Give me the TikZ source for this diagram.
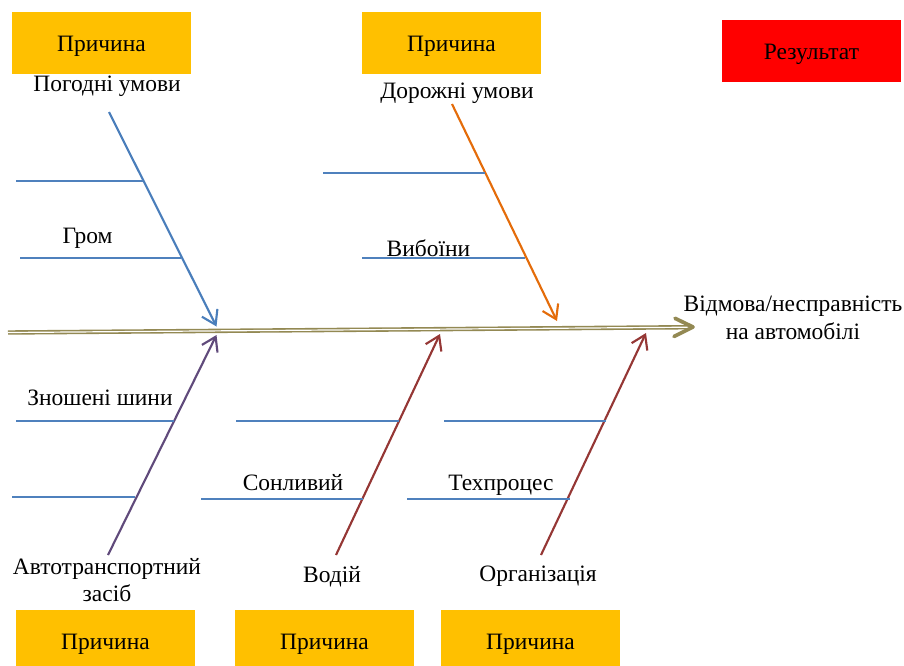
\documentclass[tikz,border=0pt]{standalone}
\usepackage{fontspec}
\setmainfont{Liberation Serif}
\usetikzlibrary{arrows.meta}
\definecolor{causefill}{HTML}{FFC000}
\definecolor{resultfill}{HTML}{FF0000}
\definecolor{spinecol}{HTML}{938953}
\definecolor{bluebone}{HTML}{4A7EBB}
\definecolor{subbone}{HTML}{4F81BD}
\definecolor{orangebone}{HTML}{E46C0A}
\definecolor{purplebone}{HTML}{604A7B}
\definecolor{redbone}{HTML}{953735}
\begin{document}
\begin{tikzpicture}[x=0.75pt,y=-0.75pt,
  txt/.style={font=\fontsize{17.6}{20.6}\selectfont, inner sep=0pt},
  causebox/.style={txt, fill=causefill, minimum width=134.25pt, minimum height=46.5pt,
    text height=13pt, text depth=0pt},
  resultbox/.style={causebox, fill=resultfill},
  lbl/.style={txt, anchor=base},
  bone/.style={line width=1.6pt, -{Straight Barb[length=10pt,width=13pt]}},
  twig/.style={draw=subbone, line width=1.3pt},
  spine/.style={draw=spinecol, double=white, line width=1.2pt, double distance=0.9pt},
  spinehead/.style={draw=spinecol, line width=2.8pt, line cap=round, line join=round},
]
\clip (0,0) rectangle (904,665);

% cause and result boxes
\node[causebox] (c1) at (101.5,43) {Причина};
\node[causebox] (c2) at (451.5,43) {Причина};
\node[resultbox] (res) at (811.5,51) {Результат};
\node[causebox] (c3) at (105.5,641) {Причина};
\node[causebox] (c4) at (324.5,641) {Причина};
\node[causebox] (c5) at (530.5,641) {Причина};

% category labels
\node[lbl] (weather) at (107,91.7) {Погодні умови};
\node[lbl] (road) at (457,98) {Дорожні умови};
\node[lbl, align=center] (vehicle) at (107,601.7) {Автотранспортний\\засіб};
\node[lbl] (driver) at (332,582.7) {Водій};
\node[lbl] (org) at (538,581.7) {Організація};
\node[txt, align=center] (effect) at (793,318) {Відмова/несправність\\на автомобілі};

% sub-cause labels
\node[lbl] (thunder) at (87.5,243) {Гром};
\node[lbl] (potholes) at (428.5,256) {Вибоїни};
\node[lbl] (tyres) at (100,405) {Зношені шини};
\node[lbl] (sleepy) at (293,490) {Сонливий};
\node[lbl] (process) at (501,490) {Техпроцес};

% spine
\coordinate (spL) at (8,332.5);
\coordinate (spR) at (690,327.2);
\coordinate (tip) at (693,327);
\coordinate (hu) at (675,318.3);
\coordinate (hd) at (674,336.5);
\path[spine] (spL) -- (spR);
\path[spinehead] (hu) -- (tip) -- (hd);

% bones
\coordinate (b1s) at (109,112);   \coordinate (b1e) at (216.5,326.5);
\coordinate (b2s) at (452,104);   \coordinate (b2e) at (557,321);
\coordinate (b3s) at (108,555);   \coordinate (b3e) at (216.5,335);
\coordinate (b4s) at (336,555);   \coordinate (b4e) at (440,334);
\coordinate (b5s) at (541,555);   \coordinate (b5e) at (646,333);
\draw[bone, bluebone] (b1s) -- (b1e);
\draw[bone, orangebone] (b2s) -- (b2e);
\draw[bone, purplebone] (b3s) -- (b3e);
\draw[bone, redbone] (b4s) -- (b4e);
\draw[bone, redbone] (b5s) -- (b5e);

% sub-bones
\coordinate (t1a) at (16,180.7);  \coordinate (t1b) at (143,180.7);
\coordinate (t2a) at (20,257.7);  \coordinate (t2b) at (181,257.7);
\coordinate (t3a) at (323,172.7); \coordinate (t3b) at (485,172.7);
\coordinate (t4a) at (362,257.7); \coordinate (t4b) at (525,257.7);
\coordinate (t5a) at (16,421.3);  \coordinate (t5b) at (174,421.3);
\coordinate (t6a) at (12,497.3);  \coordinate (t6b) at (135,497.3);
\coordinate (t7a) at (236,421.3); \coordinate (t7b) at (399,421.3);
\coordinate (t8a) at (201,499);   \coordinate (t8b) at (363,499);
\coordinate (t9a) at (444,421.3); \coordinate (t9b) at (606,421.3);
\coordinate (t10a) at (407,499);  \coordinate (t10b) at (570,499);
\foreach \i in {1,...,10} \path[twig] (t\i a) -- (t\i b);
\end{tikzpicture}
\end{document}
